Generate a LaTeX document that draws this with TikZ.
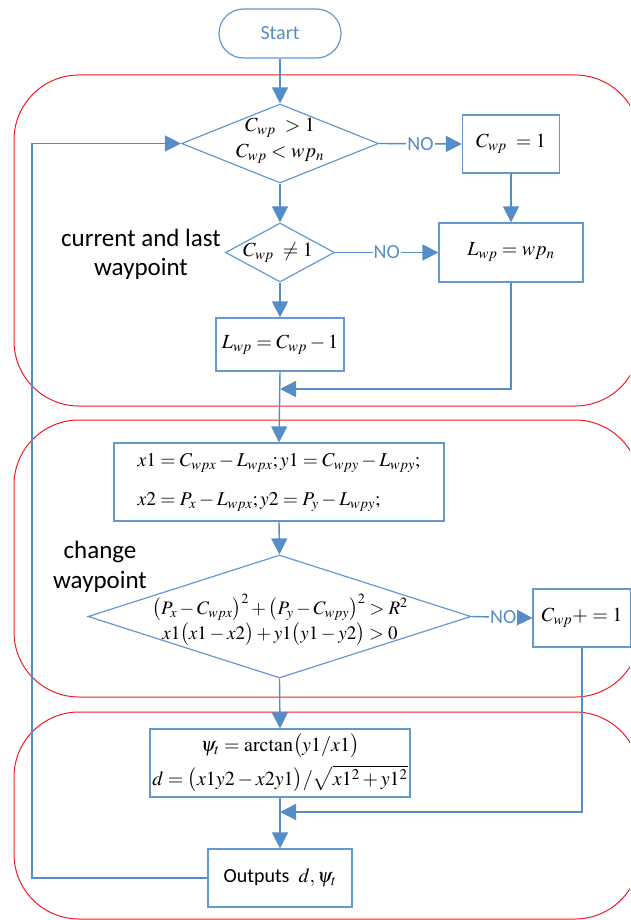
\documentclass[tikz,border=0pt]{standalone}
\usepackage{mathptmx}
\usepackage[no-math]{fontspec}
\setmainfont{Carlito}
\usetikzlibrary{arrows.meta,shapes.geometric,calc}
\definecolor{flowblue}{RGB}{84,141,199}
\definecolor{boxblue}{RGB}{100,152,206}
\definecolor{regred}{RGB}{236,32,36}
\newcommand\mfont[1]{\fontsize{#1}{#1}\selectfont}
\begin{document}
\begin{tikzpicture}[x=1pt,y=-1pt,
  flow/.style={draw=flowblue,line width=1.4pt,-{Triangle[length=16pt,width=16pt]}},
  box/.style={draw=boxblue,line width=1.2pt,rectangle,inner sep=0pt,font=\mfont{20}},
  dia/.style={draw=boxblue,line width=1.2pt,diamond,inner sep=0pt,aspect=2},
  mtext/.style={inner sep=0pt,align=center,font=\mfont{20}},
  nolbl/.style={fill=white,text=flowblue,inner sep=1pt,font=\mfont{20}},
  lbl/.style={inner sep=0pt,align=center,text=black},
  region/.style={draw=regred,line width=1pt,rounded corners=65pt}]
\useasboundingbox (0,0) rectangle (630,920);
% regions
\begin{scope}
  \clip (0,0) rectangle (630,920);
  \draw[region] (14,75) rectangle (640,406);
  \draw[region] (14,420) rectangle (640,697);
  \draw[region] (14,712) rectangle (640,919);
\end{scope}
% nodes
\node[draw=boxblue,line width=1.2pt,rounded corners=24.5pt,minimum width=122pt,minimum height=49pt,
      inner sep=0pt,text=flowblue,font=\mfont{20}] (start) at (280,33.5) {Start};
\node[dia,minimum width=197pt,minimum height=79pt] (d1) at (280,143.5) {};
\node[mtext,font=\fontsize{20}{26}\selectfont] (t1) at (280,141) {$C_{wp}\ >1$\\$C_{wp}<wp_n$};
\node[box,minimum width=97pt,minimum height=58pt] (c1) at (511,144) {$C_{wp}\ =1$};
\node[dia,minimum width=109pt,minimum height=59pt] (d2) at (280,252.5) {};
\node[mtext] (t2) at (278,252.5) {$C_{wp}\ \neq 1$};
\node[box,minimum width=144pt,minimum height=59pt] (l2) at (511,252.5) {$L_{wp}=wp_n$};
\node[box,minimum width=128pt,minimum height=53pt] (l1) at (280,344.5) {$L_{wp}=C_{wp}-1$};
\node[box,minimum width=330pt,minimum height=78pt,align=left,font=\fontsize{19.5}{39}\selectfont] (xb) at (279,482)
  {$x1=C_{wpx}-L_{wpx};y1=C_{wpy}-L_{wpy};$\\$x2=P_x-L_{wpx};y2=P_y-L_{wpy};$};
\node[dia,minimum width=383pt,minimum height=123pt] (d3) at (279.5,616.5) {};
\node[mtext,font=\fontsize{19}{25}\selectfont] (t3) at (280,620)
  {$\bigl(P_x-C_{wpx}\bigr)^2+\bigl(P_y-C_{wpy}\bigr)^2>R^2$\\$x1\bigl(x1-x2\bigr)+y1\bigl(y1-y2\bigr)>0$};
\node[box,minimum width=98pt,minimum height=58pt] (c2) at (582,618) {$C_{wp}+=1$};
\node[box,minimum width=260pt,minimum height=68pt,align=center,font=\fontsize{20}{34}\selectfont] (psi) at (280,763)
  {$\psi_t=\arctan\bigl(y1/x1\bigr)$\\$d=\bigl(x1y2-x2y1\bigr)/\sqrt{x1^2+y1^2}$};
\node[box,minimum width=144pt,minimum height=58pt] (out) at (280,878) {Outputs\ \ $d,\psi_t$};
\node[lbl,font=\fontsize{25}{29}\selectfont] (lab1) at (141,254) {current and last\\waypoint};
\node[lbl,font=\fontsize{25}{30}\selectfont] (lab2) at (100,567) {change\\waypoint};
% coordinates
\coordinate (m1) at (280,389);
\coordinate (m2) at (280,812);
\coordinate (loopc) at (32,143.5);
% connectors
\draw[flow] (start.south) -- (d1.north);
\draw[flow] (d1.east) -- node[nolbl]{NO} (c1.west);
\draw[flow] (c1.south) -- (l2.north);
\draw[flow] (d1.south) -- (d2.north);
\draw[flow] (d2.east) -- node[nolbl]{NO} (l2.west);
\draw[flow] (d2.south) -- (l1.north);
\draw[flow] (l1.south) -- (xb.north);
\draw[flow] (l2.south) |- (m1);
\draw[flow] (xb.south) -- (d3.north);
\draw[flow] (d3.east) -- node[nolbl,pos=0.52]{NO} (c2.west);
\draw[flow] (d3.south) -- (psi.north);
\draw[flow] (c2.south) |- (m2);
\draw[flow] (psi.south) -- (out.north);
\draw[flow] (out.west) -| (loopc) -- (d1.west);
\end{tikzpicture}
\end{document}
